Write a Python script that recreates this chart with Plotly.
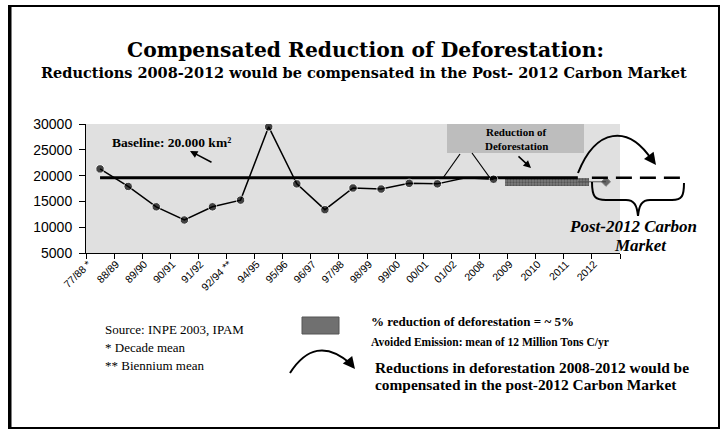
import plotly.graph_objects as go

# ---------------- data ----------------
categories = ["77/88 *", "88/89", "89/90", "90/91", "91/92", "92/94 **", "94/95",
              "95/96", "96/97", "97/98", "98/99", "99/00", "00/01", "01/02",
              "2008", "2009", "2010", "2011", "2012"]
deforestation = [21300, 17900, 13950, 11400, 13950, 15250, 29450, 18400, 13400,
                 17600, 17400, 18500, 18400, 19600, 19300]   # 77/88 .. 2008
baseline_value = 19600
baseline_cats = categories[:18]                       # 77/88 .. 2011
reduced_years = ["2009", "2010", "2011"]
reduced_values = [18000, 18000, 18000]
projection_years = ["2011", "2012"]
projection_values = [18800, 18800]
y_ticks = [5000, 10000, 15000, 20000, 25000, 30000]
y_range = [5000, 30000]

# ---------------- layout helpers ----------------
W, H = 722, 431
L, R, T, B = 86, 620, 124, 253


def fx(x):
    return (x - L) / (R - L)


def fy(y):
    return (B - y) / (B - T)


def cat_paper(name, off=0.0):
    i = categories.index(name)
    return (i + 0.5 + off) / len(categories)


def yv_paper(v):
    return (v - y_range[0]) / (y_range[1] - y_range[0])


SERIF = "Liberation Serif, Times New Roman, serif"
WIDE = "DejaVu Serif, serif"
SANS = "Liberation Sans, Arial, sans-serif"

fig = go.Figure()

fig.add_trace(go.Bar(
    x=reduced_years,
    y=[baseline_value - r for r in reduced_values],
    base=reduced_values,
    width=1, offset=-0.6,
    marker=dict(color="#6a6a6a", line=dict(width=0),
                pattern=dict(shape=".", fgcolor="#2e2e2e", bgcolor="#7c7c7c",
                             size=3, solidity=0.45)),
    showlegend=False, hoverinfo="skip"))

fig.add_trace(go.Scatter(
    x=baseline_cats, y=[baseline_value] * len(baseline_cats),
    mode="lines", line=dict(color="black", width=3),
    showlegend=False, hoverinfo="skip"))

marker_sizes = [8.5] * len(deforestation)
marker_sizes[categories.index("01/02")] = 0
fig.add_trace(go.Scatter(
    x=categories[:len(deforestation)], y=deforestation,
    mode="lines+markers", line=dict(color="black", width=1.5),
    marker=dict(color="black", size=marker_sizes),
    showlegend=False))

fig.add_trace(go.Scatter(
    x=projection_years, y=projection_values,
    mode="lines+markers", line=dict(color="#555555", width=1),
    marker=dict(color="#333333", size=[0, 7], symbol="diamond"),
    showlegend=False))

shapes = []
# outer frame
shapes.append(dict(type="rect", xref="paper", yref="paper",
                   x0=fx(9), x1=fx(719), y0=fy(6), y1=fy(428),
                   line=dict(color="black", width=2), fillcolor="rgba(0,0,0,0)"))
shapes.append(dict(type="line", xref="paper", yref="paper",
                   x0=fx(10), x1=fx(10), y0=fy(6), y1=fy(428),
                   line=dict(color="black", width=3)))
# dashed baseline extension (post-2012)
yb = yv_paper(baseline_value)
shapes.append(dict(type="line", xref="paper", yref="paper",
                   x0=cat_paper("2011", 0.5), x1=fx(685), y0=yb, y1=yb,
                   line=dict(color="black", width=2.5, dash="16px,8px")))
# "Reduction of Deforestation" box
shapes.append(dict(type="rect", xref="paper", yref="paper", layer="below",
                   x0=fx(447), x1=fx(584), y0=fy(153), y1=fy(124),
                   fillcolor="#bdbdbd", line=dict(width=0)))
shapes.append(dict(type="line", xref="paper", yref="paper",
                   x0=fx(460), y0=fy(154), x1=fx(443), y1=fy(178),
                   line=dict(color="black", width=1.2)))
shapes.append(dict(type="line", xref="paper", yref="paper",
                   x0=fx(472), y0=fy(153), x1=fx(490), y1=fy(178),
                   line=dict(color="black", width=1.2)))


def path(cmds):
    out = []
    for c in cmds:
        if isinstance(c, str):
            out.append(c)
        else:
            out.append("%.5f,%.5f" % (fx(c[0]), fy(c[1])))
    return " ".join(out)


# curved arrow over 2012
shapes.append(dict(type="path", xref="paper", yref="paper",
                   path=path(["M", (578, 173), "C", (596, 128), (628, 124), (652, 160)]),
                   line=dict(color="black", width=2)))
# curly brace
shapes.append(dict(type="path", xref="paper", yref="paper",
                   path=path(["M", (592, 182), "C", (592, 197), (595, 200), (606, 200),
                              "L", (626, 200), "C", (634, 200), (637, 205), (638, 216),
                              "C", (639, 205), (642, 200), (650, 200),
                              "L", (672, 200), "C", (682, 200), (684, 196), (684, 183)]),
                   line=dict(color="black", width=2)))
# legend square
shapes.append(dict(type="rect", xref="paper", yref="paper",
                   x0=fx(302), x1=fx(339), y0=fy(334), y1=fy(317),
                   fillcolor="#707070", line=dict(color="#555555", width=1)))
# legend arc
shapes.append(dict(type="path", xref="paper", yref="paper",
                   path=path(["M", (290, 373), "C", (306, 348), (326, 342), (351, 364)]),
                   line=dict(color="black", width=2)))

annotations = []


def text(x, y, s, size, family=SERIF, xanchor="left", color="black"):
    annotations.append(dict(x=fx(x), y=fy(y), xref="paper", yref="paper",
                            text=s, showarrow=False, xanchor=xanchor,
                            yanchor="middle", align=xanchor if xanchor != "center" else "center",
                            font=dict(family=family, size=size, color=color)))


def arrow(tipx, tipy, tailx, taily, width=1.5, size=1.0):
    annotations.append(dict(x=fx(tipx), y=fy(tipy), xref="paper", yref="paper",
                            ax=tailx - tipx, ay=taily - tipy, axref="pixel", ayref="pixel",
                            text="", showarrow=True, arrowhead=2, arrowsize=size,
                            arrowwidth=width, arrowcolor="black"))


text(365, 50, "<b>Compensated Reduction of Deforestation:</b>", 20.3, WIDE, "center")
text(364, 72, "<b>Reductions 2008-2012 would be compensated in the Post- 2012 Carbon Market</b>",
     14.5, WIDE, "center")
text(110, 142, "<b>Baseline: 20.000 km²</b>", 13.5)
arrow(190, 151, 213, 163, 1.5, 1.0)
text(516, 132, "<b>Reduction of</b>", 11, SERIF, "center")
text(516, 146, "<b>Deforestation</b>", 11, SERIF, "center")
arrow(531, 168, 517, 155, 1.5, 1.0)
arrow(656, 165, 650, 157, 2, 1.2)
text(633, 226, "<b><i>Post-2012 Carbon</i></b>", 17, SERIF, "center")
text(640, 245, "<b><i>Market</i></b>", 17, SERIF, "center")

text(103, 329, "Source: INPE 2003, IPAM", 13)
text(103, 347, "* Decade mean", 13)
text(103, 365, "** Biennium mean", 13)
text(369, 321, "<b>% reduction of deforestation = ~ 5%</b>", 13)
text(369, 342, "<b>Avoided Emission: mean of 12 Million Tons C/yr</b>", 11.5)
arrow(355, 369, 351, 364, 2, 1.2)
text(373, 367, "<b>Reductions in deforestation 2008-2012 would be</b>", 15.4)
text(373, 384, "<b>compensated in the post-2012 Carbon Market</b>", 15.4)

fig.update_layout(
    width=W, height=H, autosize=False,
    margin=dict(l=L, r=W - R, t=T, b=H - B, pad=0, autoexpand=False),
    paper_bgcolor="white", plot_bgcolor="#e0e0e0",
    shapes=shapes, annotations=annotations, showlegend=False,
    bargap=0,
    xaxis=dict(type="category", categoryorder="array", categoryarray=categories,
               range=[-0.5, len(categories) - 0.5], tickson="boundaries",
               ticks="outside", ticklen=5, tickcolor="black", showline=True,
               linecolor="black", linewidth=1, showgrid=False, tickangle=-45,
               ticklabelshift=-12,
               tickfont=dict(family=SANS, size=10.5, color="black")),
    yaxis=dict(range=y_range, tickvals=y_ticks, tickformat="d", ticks="outside", ticklen=6,
               tickcolor="black", showline=True, linecolor="black", linewidth=1,
               showgrid=False, zeroline=False, ticklabelstandoff=4,
               tickfont=dict(family=SANS, size=14, color="black")),
)

fig.write_html("out.html")
